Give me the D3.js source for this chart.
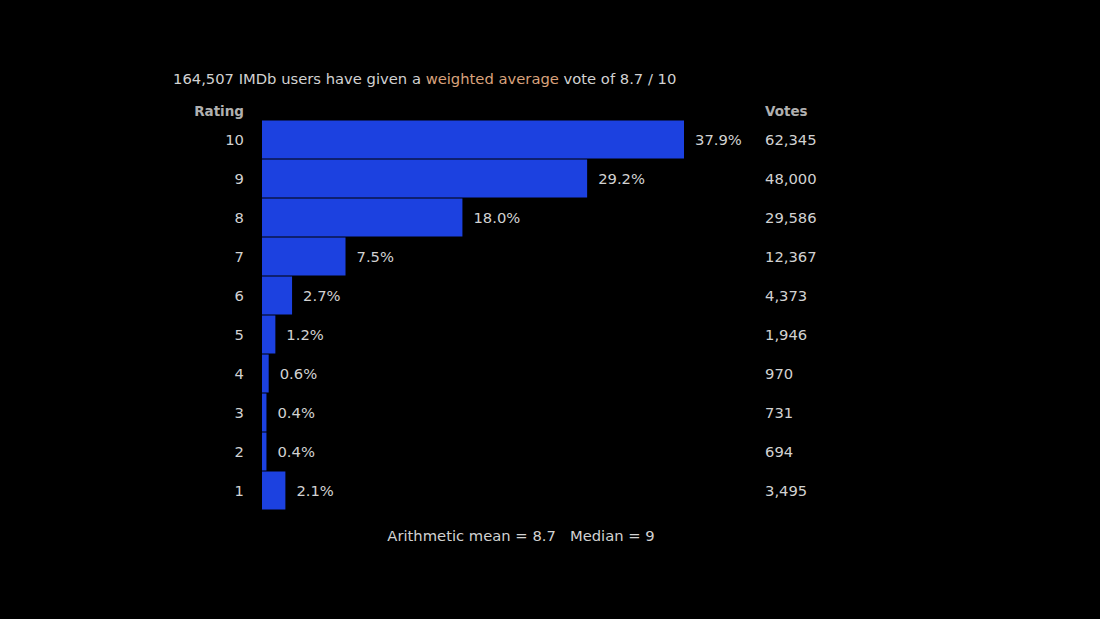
<!DOCTYPE html>
<html>
<head>
<meta charset="utf-8">
<script src="https://cdn.jsdelivr.net/npm/d3@7"></script>
<style>
  body { margin: 0; background: #000; }
  svg text { font-family: "DejaVu Sans", Verdana, sans-serif; }
</style>
</head>
<body>
<div id="chart"></div>
<script>
// ratings, top to bottom
var ratings = [10, 9, 8, 7, 6, 5, 4, 3, 2, 1];
var votes = [62345, 48000, 29586, 12367, 4373, 1946, 970, 731, 694, 3495];
var percents = [37.9, 29.2, 18.0, 7.5, 2.7, 1.2, 0.6, 0.4, 0.4, 2.1];
var totalVotes = 164507;
var weightedAvg = 8.7;
var mean = 8.7;
var median = 9;

var width = 1100, height = 619;

var svg = d3.select("#chart").append("svg")
    .attr("width", width)
    .attr("height", height);

var x = d3.scaleLinear()
    .domain([0, 37.9])
    .range([262, 684]);

var y = d3.scaleBand()
    .domain(ratings)
    .range([120.5, 510.5])
    .paddingInner(0);

var fmt = d3.format(",");

// title
var title = svg.append("text")
    .attr("x", 173)
    .attr("y", 84)
    .attr("fill", "#d2d2d2")
    .style("font-size", "14.75px");
title.append("tspan").text(fmt(totalVotes) + " IMDb users have given a ");
title.append("tspan").attr("fill", "#d9a27c").text("weighted average");
title.append("tspan").text(" vote of " + weightedAvg + " / 10");

// column headers
svg.append("text")
    .attr("x", 244)
    .attr("y", 116)
    .attr("text-anchor", "end")
    .attr("fill", "#b0b0b0")
    .style("font-size", "13.5px")
    .style("font-weight", "bold")
    .text("Rating");

svg.append("text")
    .attr("x", 765)
    .attr("y", 116)
    .attr("fill", "#b0b0b0")
    .style("font-size", "13.5px")
    .style("font-weight", "bold")
    .text("Votes");

var rows = svg.selectAll("g.row")
    .data(ratings)
    .enter().append("g")
    .attr("class", "row");

rows.append("rect")
    .attr("x", x(0))
    .attr("y", function(d) { return y(d); })
    .attr("width", function(d, i) { return x(percents[i]) - x(0); })
    .attr("height", y.bandwidth() - 1)
    .attr("fill", "#1c41e0");

rows.append("text")
    .attr("x", 244)
    .attr("y", function(d) { return y(d) + y.bandwidth() / 2 + 5; })
    .attr("text-anchor", "end")
    .attr("fill", "#d2d2d2")
    .style("font-size", "14.75px")
    .text(function(d) { return d; });

rows.append("text")
    .attr("x", function(d, i) { return x(percents[i]) + 11; })
    .attr("y", function(d) { return y(d) + y.bandwidth() / 2 + 5; })
    .attr("fill", "#d2d2d2")
    .style("font-size", "14.75px")
    .text(function(d, i) { return percents[i].toFixed(1) + "%"; });

rows.append("text")
    .attr("x", 765)
    .attr("y", function(d) { return y(d) + y.bandwidth() / 2 + 5; })
    .attr("fill", "#d2d2d2")
    .style("font-size", "14.75px")
    .text(function(d, i) { return fmt(votes[i]); });

// footer
svg.append("text")
    .attr("x", 521)
    .attr("y", 541)
    .attr("text-anchor", "middle")
    .attr("fill", "#d2d2d2")
    .style("font-size", "14.75px")
    .attr("xml:space", "preserve")
    .text("Arithmetic mean = " + mean + "   Median = " + median);
</script>
</body>
</html>
